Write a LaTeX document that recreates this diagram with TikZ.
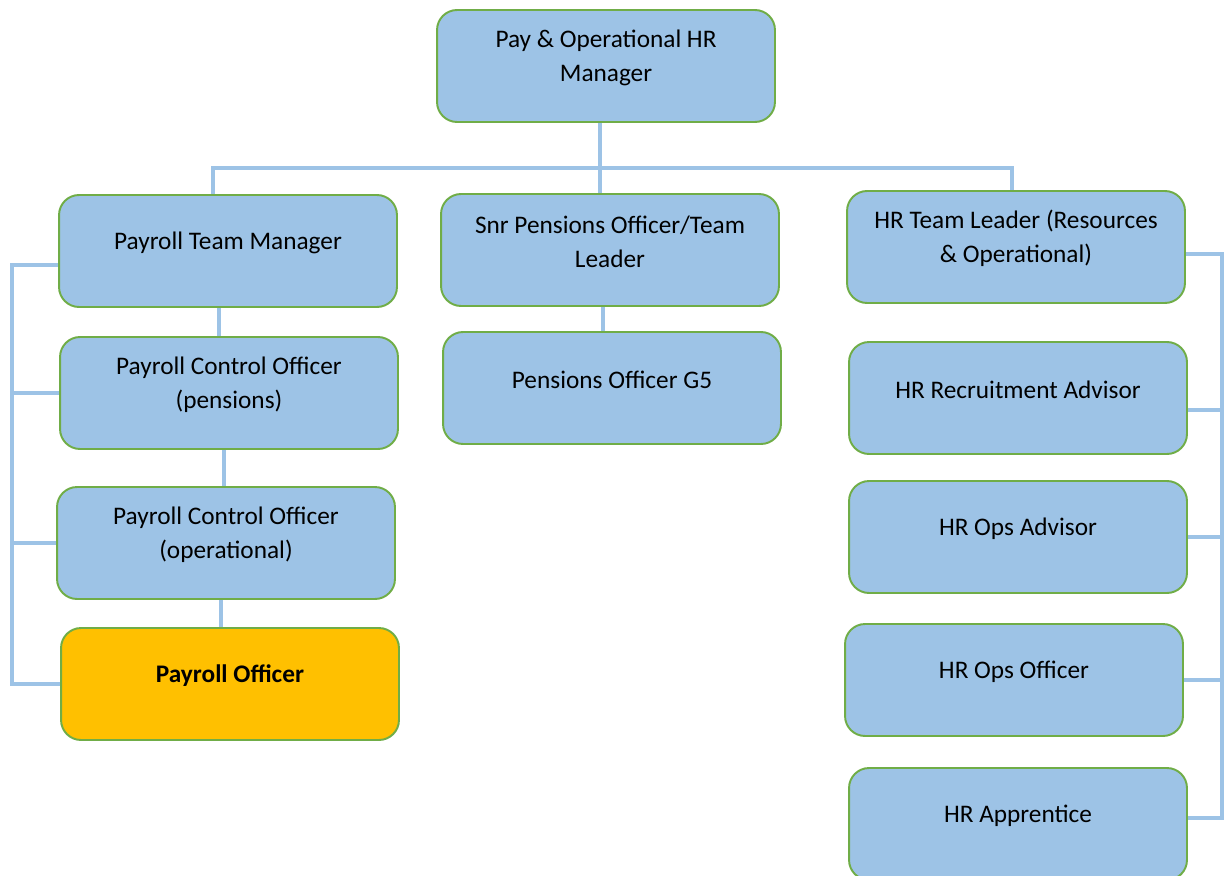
\documentclass[tikz,border=0pt]{standalone}
\usepackage{fontspec}
\setmainfont{Carlito}
\usepackage{tikz}
\usetikzlibrary{calc}

\definecolor{boxblue}{HTML}{9DC3E6}
\definecolor{boxgreen}{HTML}{70AD47}
\definecolor{boxgold}{HTML}{FFC000}

\begin{document}
\begin{tikzpicture}
  [x=0.02cm, y=-0.02cm,
  title/.style={align=center, yshift=0.17cm, font=\fontsize{14.4}{19.3}\selectfont},
  post/.style={rectangle, rounded corners=0.4cm, draw=boxgreen, line width=1.1pt,
    fill=boxblue, minimum width=6.76cm, minimum height=2.24cm,
    label={[title]center:#1}},
  lead/.style={post={\bfseries #1}, fill=boxgold},
  link/.style={draw=boxblue, line width=2.3pt}]
  \useasboundingbox (0,0) rectangle (1226,875);
  % nodes
  \node [post={Pay \& Operational HR\\Manager}] (top) at (606,66) {};
  \node [post={Payroll Team Manager}] (ptm) at (228,251) {};
  \node [post={Snr Pensions Officer/Team\\Leader}] (snr) at (610,250) {};
  \node [post={HR Team Leader (Resources\\\& Operational)}] (hrtl) at (1016,247) {};
  \node [post={Payroll Control Officer\\(pensions)}] (pcop) at (229,393) {};
  \node [post={Pensions Officer G5}] (pog) at (612,388) {};
  \node [post={HR Recruitment Advisor}] (hrra) at (1018,398) {};
  \node [post={Payroll Control Officer\\(operational)}] (pcoo) at (226,543) {};
  \node [post={HR Ops Advisor}] (hroa) at (1018,537) {};
  \node [lead={Payroll Officer}] (po) at (230,684) {};
  \node [post={HR Ops Officer}] (hroo) at (1014,680) {};
  \node [post={HR Apprentice}] (hrap) at (1018,824) {};
  \coordinate (bus) at (600,168);
  \coordinate (lbar) at (12,0);
  \coordinate (rbar) at (1222,0);

  % edges
  \path [link] (top.south -| bus) -- (bus);
  \path [link] ($(ptm.north)+(-15,0)$) |- (bus) -| ($(hrtl.north)+(-4,0)$);
  \path [link] (bus) -- (bus |- snr.north);
  \path [link] ($(ptm.south)+(-9,0)$) -- ($(ptm.south |- pcop.north)+(-9,0)$);
  \path [link] ($(pcop.south)+(-5,0)$) -- ($(pcop.south |- pcoo.north)+(-5,0)$);
  \path [link] ($(pcoo.south)+(-5,0)$) -- ($(pcoo.south |- po.north)+(-5,0)$);
  \path [link] ($(snr.south)+(-7,0)$) -- ($(snr.south |- pog.north)+(-7,0)$);
  % left bracket
  \path [link] ($(ptm.west)+(0,14)$) -- ($(ptm.west -| lbar)+(0,14)$) -- (po.west -| lbar) -- (po.west);
  \path [link] (pcop.west) -- (pcop.west -| lbar);
  \path [link] (pcoo.west) -- (pcoo.west -| lbar);
  % right bracket
  \path [link] ($(hrtl.east)+(0,7)$) -- ($(hrtl.east -| rbar)+(0,7)$) -- ($(hrap.east -| rbar)+(0,-6)$) -- ($(hrap.east)+(0,-6)$);
  \path [link] ($(hrra.east)+(0,12)$) -- ($(hrra.east -| rbar)+(0,12)$);
  \path [link] (hroa.east) -- (hroa.east -| rbar);
  \path [link] (hroo.east) -- (hroo.east -| rbar);

\end{tikzpicture}
\end{document}
